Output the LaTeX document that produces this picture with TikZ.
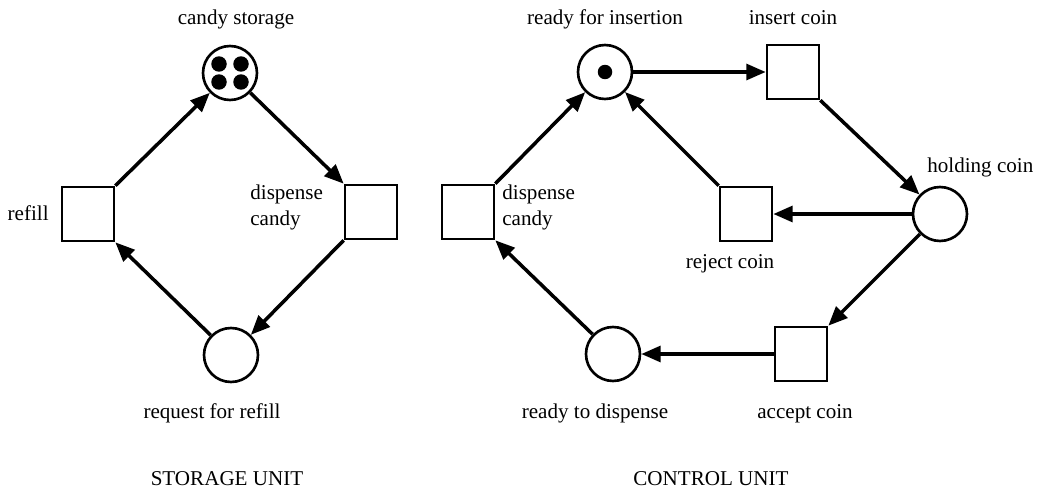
\documentclass[tikz,border=0pt]{standalone}
\usepackage{fontspec}
\setmainfont{Liberation Serif}
\usetikzlibrary{arrows.meta}

\begin{document}
\begin{tikzpicture}[x=0.02cm,y=-0.02cm,font=\fontsize{12}{14.5}\selectfont,
  arc/.style={-{Triangle[length=11pt,width=9pt]},line width=2pt}]

    % `place' is used for the circles, `trans' for the boxes.
    % `lbl' is for the texts beside them.
    \tikzstyle{place} = [draw,circle,line width=1.5pt,minimum size=1.08cm,inner sep=0pt]
    \tikzstyle{trans} = [draw,line width=1.5pt,minimum width=1.04cm,minimum height=1.08cm,inner sep=0pt]
    \tikzstyle{lbl} = [inner sep=0pt]
    \tikzstyle{token} = [fill=black]
    %
    \useasboundingbox (0,0) rectangle (1042,490);

    % Storage unit.
    \node[place] (P1) at (230,73) {};
    \node[trans] (T1) at (88,214) {};
    \node[trans] (T2) at (371,212) {};
    \node[place] (P2) at (231,355) {};

    % Control unit.
    \node[place] (P3) at (605,72) {};
    \node[trans] (T3) at (793,72) {};
    \node[place] (P4) at (940,214) {};
    \node[trans] (T4) at (746,214) {};
    \node[trans] (T5) at (468,212) {};
    \node[place] (P5) at (613,354) {};
    \node[trans] (T6) at (801,354) {};

    % Tokens.
    \foreach \dx/\dy in {-11/-9,11/-9,-11/9,11/9}
        \fill[token,shift={(P1)}] (\dx,\dy) circle[radius=0.155cm];
    \fill[token] (P3) circle[radius=0.145cm];

    % Labels.
    \node[lbl,anchor=base] (L1) at (236,25) {candy storage};
    \node[lbl,anchor=base east] (L2) at (49,220) {refill};
    \node[lbl,anchor=base west,align=left] (L3) at (250,225) {dispense\\candy};
    \node[lbl,anchor=base] (L4) at (212,418) {request for refill};
    \node[lbl,anchor=base] (L5) at (227,485) {STORAGE UNIT};
    \node[lbl,anchor=base] (L6) at (605,25) {ready for insertion};
    \node[lbl,anchor=base] (L7) at (793,25) {insert coin};
    \node[lbl,anchor=base west] (L8) at (927,172) {holding coin};
    \node[lbl,anchor=base] (L9) at (730,268) {reject coin};
    \node[lbl,anchor=base west,align=left] (L10) at (502,225) {dispense\\candy};
    \node[lbl,anchor=base] (L11) at (595,418) {ready to dispense};
    \node[lbl,anchor=base] (L12) at (805,418) {accept coin};
    \node[lbl,anchor=base] (L13) at (711,485) {CONTROL UNIT};

    % Arcs.
    \draw[arc] (T1.north east) -- (P1);
    \draw[arc] (P1) -- (T2.north west);
    \draw[arc] (T2.south west) -- (P2);
    \draw[arc] (P2) -- (T1.south east);
    \draw[arc] (P3) -- (T3);
    \draw[arc] (T3.south east) -- (P4);
    \draw[arc] (P4) -- (T4);
    \draw[arc] (T4.north west) -- (P3);
    \draw[arc] (P4) -- (T6.north east);
    \draw[arc] (T6) -- (P5);
    \draw[arc] (P5) -- (T5.south east);
    \draw[arc] (T5.north east) -- (P3);
    %
\end{tikzpicture}
\end{document}
